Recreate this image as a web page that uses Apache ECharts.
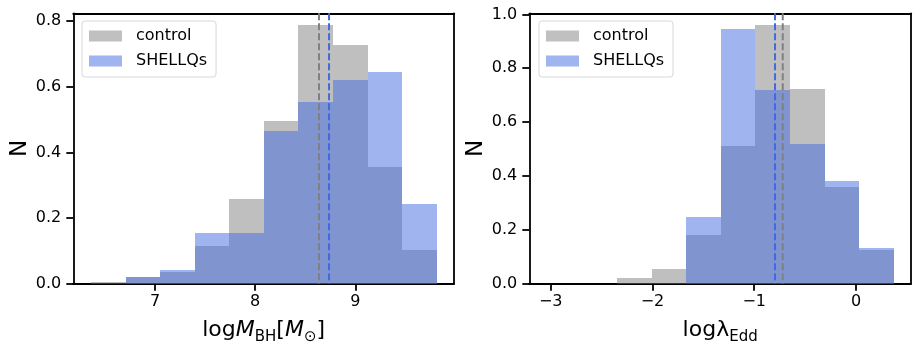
<!DOCTYPE html>
<html><head><meta charset="utf-8">
<script src="https://cdn.jsdelivr.net/npm/echarts@6/dist/echarts.min.js"></script>
<style>html,body{margin:0;padding:0;background:#fff}#c{width:918px;height:354px}</style>
</head><body><div id="c"></div>
<script>
// ---- data ----
const leftEdges = [6.361, 6.706, 7.051, 7.396, 7.741, 8.086, 8.431, 8.776, 9.121, 9.466, 9.811];
const leftControl = [0.005, 0.020, 0.036, 0.115, 0.258, 0.495, 0.788, 0.727, 0.356, 0.103];
const leftShellqs = [0.000, 0.020, 0.042, 0.154, 0.154, 0.465, 0.553, 0.620, 0.645, 0.243];
const leftMeans = { control: 8.637, SHELLQs: 8.737 };

const rightEdges = [-2.348, -2.008, -1.668, -1.328, -0.988, -0.648, -0.307, 0.033, 0.373];
const rightControl = [0.021, 0.054, 0.181, 0.511, 0.960, 0.723, 0.359, 0.126];
const rightShellqs = [0.000, 0.000, 0.248, 0.944, 0.719, 0.519, 0.380, 0.132];
const rightMeans = { control: -0.72, SHELLQs: -0.796 };

const leftXTicks = [7, 8, 9];
const rightXTicks = [-3, -2, -1, 0];
const leftYTicks = [0, 0.2, 0.4, 0.6, 0.8];
const rightYTicks = [0, 0.2, 0.4, 0.6, 0.8, 1.0];
const seriesNames = ['control', 'SHELLQs'];

// ---- styling ----
const FONT = 'DejaVu Sans';
const GREY = 'grey', BLUE = 'royalblue';
const LW = 1.8;

function binData(edges, vals) {
  return vals.map((v, i) => [edges[i], edges[i + 1], v]);
}
function histSeries(name, edges, vals, color, ax) {
  return {
    type: 'custom', name: name, xAxisIndex: ax, yAxisIndex: ax,
    data: binData(edges, vals),
    encode: { x: [0, 1], y: 2 },
    renderItem: function (params, api) {
      const p0 = api.coord([api.value(0), api.value(2)]);
      const p1 = api.coord([api.value(1), 0]);
      const x0 = Math.round(p0[0]), x1 = Math.round(p1[0]);
      const y0 = Math.round(p0[1]), y1 = p1[1];
      return { type: 'rect', shape: { x: x0, y: y0, width: x1 - x0, height: y1 - y0 },
        style: { fill: color, opacity: 0.5 } };
    }
  };
}
function meanSeries(name, x, color, ax) {
  return {
    type: 'custom', name: name, xAxisIndex: ax, yAxisIndex: ax,
    data: [[x, 0]], encode: { x: 0, y: 1 }, silent: true,
    renderItem: function (params, api) {
      const cs = params.coordSys;
      const px = api.coord([api.value(0), 0])[0];
      return { type: 'line', shape: { x1: px, y1: cs.y, x2: px, y2: cs.y + cs.height },
        style: { stroke: color, lineWidth: 2, lineDash: [7, 3] } };
    }
  };
}
const fmtNum = v => String(v).replace('-', '\u2212');
function bottomAxis(grid, min, max, ticks, nameRich, nameGap) {
  return {
    type: 'value', gridIndex: grid, min: min, max: max, position: 'bottom',
    axisLine: { show: true, onZero: false, lineStyle: { color: '#000', width: LW } },
    axisTick: { show: true, length: 7, customValues: ticks, lineStyle: { color: '#000', width: LW } },
    axisLabel: { customValues: ticks, formatter: fmtNum, color: '#000', fontFamily: FONT, fontSize: 16, margin: 10 },
    splitLine: { show: false },
    name: nameRich, nameLocation: 'middle', nameGap: nameGap,
    nameTextStyle: { color: '#000', fontFamily: FONT, fontSize: 22, rich: {
      n: { fontFamily: FONT, fontSize: 22, color: '#000', padding: [0, 0, 3, 0] },
      i: { fontFamily: FONT, fontSize: 22, fontStyle: 'italic', color: '#000', padding: [0, 0, 3, 0] },
      s: { fontFamily: FONT, fontSize: 15, color: '#000', verticalAlign: 'bottom' }
    } }
  };
}
function frameAxis(grid, pos) {
  return { type: 'value', gridIndex: grid, position: pos, min: 0, max: 1,
    axisLine: { show: true, onZero: false, lineStyle: { color: '#000', width: LW } },
    axisTick: { show: false }, axisLabel: { show: false }, splitLine: { show: false } };
}
function leftAxis(grid, max, ticks, gap) {
  return {
    type: 'value', gridIndex: grid, min: 0, max: max, position: 'left',
    axisLine: { show: true, onZero: false, lineStyle: { color: '#000', width: LW } },
    axisTick: { show: true, length: 7, customValues: ticks, lineStyle: { color: '#000', width: LW } },
    axisLabel: { customValues: ticks, formatter: v => v.toFixed(1), color: '#000', fontFamily: FONT, fontSize: 16, margin: 12 },
    splitLine: { show: false },
    name: 'N', nameLocation: 'middle', nameGap: gap, nameRotate: 90,
    nameTextStyle: { color: '#000', fontFamily: FONT, fontSize: 23 }
  };
}
function legendAt(left) {
  return {
    orient: 'vertical', left: left, top: 21,
    data: [
      { name: 'control', itemStyle: { color: '#c0c0c0', opacity: 1 } },
      { name: 'SHELLQs', itemStyle: { color: '#a0b4f0', opacity: 1 } }
    ],
    icon: 'rect', itemWidth: 33, itemHeight: 11, itemGap: 7,
    padding: [6, 9, 7, 7], borderColor: '#d8d8d8', borderWidth: 1, borderRadius: 3,
    backgroundColor: 'rgba(255,255,255,0.8)',
    selectedMode: false,
    textStyle: { fontFamily: FONT, fontSize: 16, color: '#000', lineHeight: 18, padding: [0, 0, 0, 9] }
  };
}

const option = {
  animation: false,
  backgroundColor: '#fff',
  grid: [
    { left: 73.3, top: 13.3, width: 380.7, height: 270.4 },
    { left: 529.3, top: 13.3, width: 381.7, height: 270.4 }
  ],
  xAxis: [
    bottomAxis(0, 6.185, 9.984, leftXTicks, '{n|log}{i|M}{s|BH}{n|[}{i|M}{s|\u2299}{n|]}', 36),
    bottomAxis(1, -3.21, 0.54, rightXTicks, '{n|log\u03bb}{s|Edd}', 36),
    frameAxis(0, 'top'), frameAxis(1, 'top')
  ],
  yAxis: [
    leftAxis(0, 0.8236, leftYTicks, 40),
    leftAxis(1, 1.004, rightYTicks, 40),
    frameAxis(0, 'right'), frameAxis(1, 'right')
  ],
  legend: [legendAt(82), legendAt(539)],
  series: [
    histSeries(seriesNames[0], leftEdges, leftControl, GREY, 0),
    histSeries(seriesNames[1], leftEdges, leftShellqs, BLUE, 0),
    meanSeries(seriesNames[0], leftMeans.control, GREY, 0),
    meanSeries(seriesNames[1], leftMeans.SHELLQs, BLUE, 0),
    histSeries(seriesNames[0], rightEdges, rightControl, GREY, 1),
    histSeries(seriesNames[1], rightEdges, rightShellqs, BLUE, 1),
    meanSeries(seriesNames[1], rightMeans.SHELLQs, BLUE, 1),
    meanSeries(seriesNames[0], rightMeans.control, GREY, 1)
  ]
};
const chart = echarts.init(document.getElementById('c'), null, { renderer: 'canvas' });
chart.setOption(option);
</script>
</body></html>
